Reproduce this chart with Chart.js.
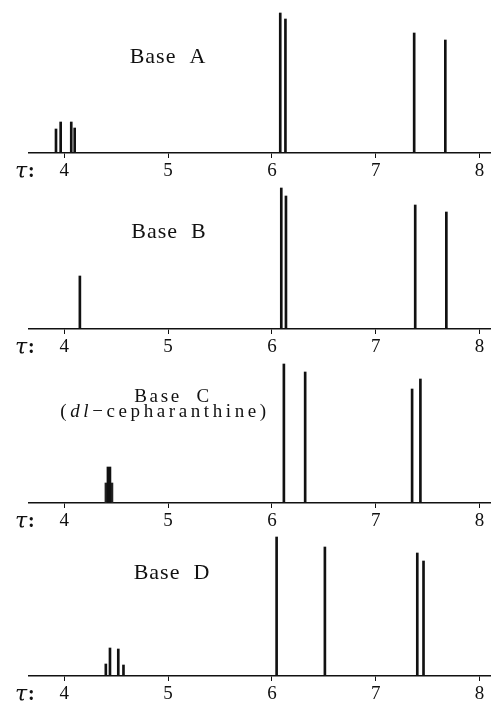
<!DOCTYPE html>
<html>
<head>
<meta charset="utf-8">
<script src="https://cdn.jsdelivr.net/npm/chart.js@4.4.1/dist/chart.umd.min.js"></script>
<style>
  body { margin: 0; background: #fff; }
  canvas { position: absolute; left: 0; }
</style>
</head>
<body>
<canvas id="chartA" width="491" height="181" style="top:0px"></canvas>
<canvas id="chartB" width="491" height="181" style="top:176px"></canvas>
<canvas id="chartC" width="491" height="181" style="top:350px"></canvas>
<canvas id="chartD" width="491" height="181" style="top:523px"></canvas>
<script>
// tau scale ticks
const tauTicks = [4, 5, 6, 7, 8];

// Base A
const tauA = [3.92, 3.965, 4.067, 4.10, 6.08, 6.13, 7.37, 7.67];
const intA = [24, 31, 31, 25, 140, 134, 120, 113];

// Base B
const tauB = [4.15, 6.09, 6.135, 7.38, 7.68];
const intB = [53, 141, 133, 124, 117];

// Base C (dl-cepharanthine)
const tauC = [6.115, 6.32, 7.35, 7.43];
const intC = [139, 131, 114, 124];
const tauCBlob = [4.43];        // broad unresolved group
const intCBlobLow = [20];
const intCBlobHigh = [36];

// Base D
const tauD = [4.40, 4.44, 4.52, 4.57, 6.045, 6.51, 7.40, 7.46];
const intD = [12, 28, 27, 11, 139, 129, 123, 115];

// captions: [text, italic]
const titleA = [[['Base  A', false]]];
const titleB = [[['Base  B', false]]];
const titleC = [[['Base  C', false]], [['(', false], ['dl', true], ['\u2212cepharanthine)', false]]];
const titleD = [[['Base  D', false]]];

const serif = '"Liberation Serif", "DejaVu Serif", serif';

// draws the panel caption and the tau: label
const panelLabel = {
    id: 'panelLabel',
    afterDraw(chart, args, opts) {
        const ctx = chart.ctx;
        const base = chart.chartArea.bottom;
        ctx.save();
        ctx.fillStyle = '#111';
        ctx.textBaseline = 'middle';
        ctx.textAlign = 'left';
        opts.lines.forEach((parts, i) => {
            ctx.letterSpacing = opts.spacing[i] + 'px';
            const fonts = parts.map(p => (p[1] ? 'italic ' : '') + opts.size + 'px ' + serif);
            let total = 0;
            const widths = parts.map((p, j) => {
                ctx.font = fonts[j];
                const w = ctx.measureText(p[0]).width;
                total += w;
                return w;
            });
            let x = opts.x[i] - total / 2;
            parts.forEach((p, j) => {
                ctx.font = fonts[j];
                ctx.fillText(p[0], x, base + opts.y[i]);
                x += widths[j];
            });
        });
        ctx.letterSpacing = '0px';
        ctx.font = 'italic 22px "DejaVu Serif", serif';
        ctx.fillText('τ', 15, base + 19);
        ctx.font = 'bold 20px ' + serif;
        ctx.fillText(':', 28, base + 19);
        ctx.restore();
    }
};

function toPoints(tau, heights) {
    return tau.map((t, i) => ({ x: t, y: heights[i] }));
}

function plotPanel(canvasId, lines, label, datasets) {
    const ctx = document.getElementById(canvasId).getContext('2d');
    return new Chart(ctx, {
        type: 'bar',
        data: { datasets: datasets },
        plugins: [panelLabel],
        options: {
            responsive: false,
            animation: false,
            layout: { padding: { top: 3, left: 29, right: 0, bottom: 0 } },
            plugins: {
                legend: { display: false },
                tooltip: { enabled: false },
                panelLabel: Object.assign({ lines: lines }, label)
            },
            scales: {
                x: {
                    type: 'linear',
                    offset: false,
                    min: 3.66,
                    max: 8.11,
                    afterBuildTicks: axis => { axis.ticks = tauTicks.map(v => ({ value: v })); },
                    afterFit: axis => { axis.height = 28; },
                    border: { display: true, color: '#111', width: 1.5 },
                    grid: { display: true, offset: false, drawOnChartArea: false, drawTicks: true, tickLength: 5, color: '#111', lineWidth: 1 },
                    ticks: { color: '#111', padding: 2, font: { family: serif, size: 19 }, maxRotation: 0 }
                },
                y: {
                    display: false,
                    min: 0,
                    max: 150
                }
            }
        }
    });
}

function lineSet(tau, heights, width, color) {
    return {
        data: toPoints(tau, heights),
        backgroundColor: color || '#111',
        borderWidth: 0,
        barThickness: width,
        grouped: false
    };
}

plotPanel('chartA', titleA, { x: [168], y: [-96], size: 22, spacing: [1] }, [lineSet(tauA, intA, 2)]);
plotPanel('chartB', titleB, { x: [169], y: [-97], size: 22, spacing: [1] }, [lineSet(tauB, intB, 2)]);
plotPanel('chartC', titleC, { x: [173, 165], y: [-106, -91], size: 19, spacing: [2.6, 3.6] }, [
    lineSet(tauC, intC, 2),
    lineSet(tauCBlob, intCBlobHigh, 4),
    lineSet(tauCBlob, intCBlobLow, 8, '#222')
]);
plotPanel('chartD', titleD, { x: [172], y: [-103], size: 22, spacing: [1] }, [lineSet(tauD, intD, 2)]);
</script>
</body>
</html>
